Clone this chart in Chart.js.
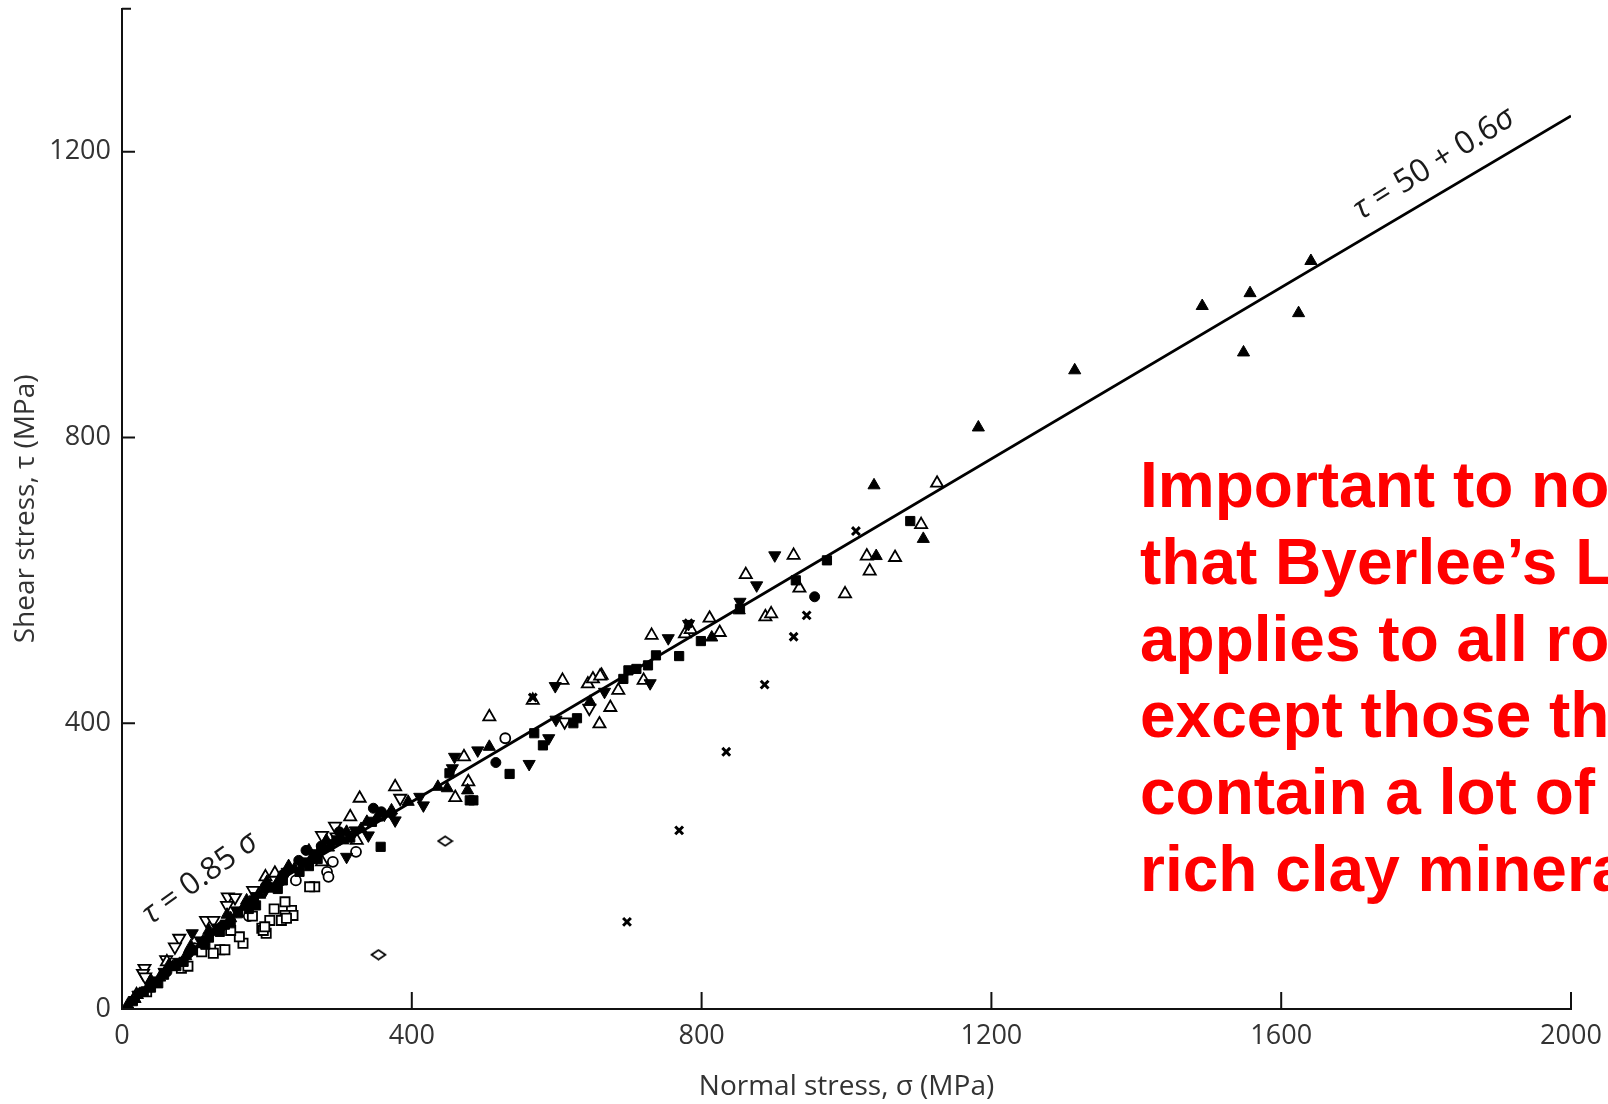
<!DOCTYPE html>
<html>
<head>
<meta charset="utf-8">
<title>Byerlee's law</title>
<script src="https://cdn.jsdelivr.net/npm/chart.js@4.4.1/dist/chart.umd.min.js"></script>
<style>
  html, body { margin: 0; padding: 0; background: #fff; }
  #wrap { width: 1608px; height: 1104px; }
</style>
</head>
<body>
<div id="wrap"><canvas id="byerleeChart" width="1608" height="1104"></canvas></div>
<script>
// Axis ticks
const xTicks = [0, 400, 800, 1200, 1600, 2000];
const xTickLabels = ['0', '400', '800', '1200', '1600', '2000'];
const yTicks = [0, 400, 800, 1200];
const yTickLabels = ['0', '400', '800', '1200'];

// Byerlee fit lines, [sigma, tau] in MPa
const lowLine = [[0, 0], [200, 170]];
const highLine = [[200, 170], [2000, 1250]];

const filledUp = [
  [1641, 1047], [1557, 1002], [1491, 984], [1624, 974], [1548, 919], [1315, 894],
  [1182, 814], [1038, 733], [1106, 658], [1041, 634], [814, 520], [852, 558],
  [449, 309], [436, 311], [477, 306], [395, 290], [507, 367], [646, 430],
  [8, 6], [18, 14], [35, 29], [52, 44], [70, 59], [88, 74], [112, 95], [128, 108],
  [150, 127], [168, 143], [190, 160], [215, 178], [238, 196], [262, 212], [285, 226],
  [305, 236], [330, 252], [352, 268], [372, 278], [40, 40], [65, 62], [95, 88],
  [120, 110], [145, 132], [172, 152], [200, 178], [230, 200], [258, 222], [282, 236],
  [310, 248], [338, 262]
];
const openUp = [
  [1125, 736], [1103, 678], [1028, 634], [1067, 632], [1032, 613], [998, 581],
  [927, 635], [861, 608], [935, 589], [888, 549], [896, 553], [811, 547], [777, 525],
  [785, 531], [731, 523], [825, 527], [662, 467], [720, 460], [685, 446], [643, 455],
  [650, 462], [660, 466], [674, 422], [659, 399], [608, 460], [567, 432], [507, 409],
  [472, 353], [478, 318], [460, 296], [377, 311], [328, 295], [315, 269], [324, 236],
  [276, 206], [198, 185], [211, 190], [62, 66], [20, 20]
];
const filledDown = [
  [901, 635], [876, 593], [782, 539], [754, 519], [729, 456], [666, 444], [598, 452],
  [599, 405], [589, 379], [491, 362], [459, 353], [562, 343], [411, 297], [416, 285],
  [377, 264], [310, 213], [340, 243], [97, 106], [853, 570], [456, 337], [45, 40],
  [78, 66], [132, 114], [198, 166], [228, 192], [268, 218], [22, 20], [58, 52],
  [108, 96], [158, 138], [185, 158], [248, 206], [290, 232], [322, 250], [362, 272]
];
const openDown = [
  [645, 421], [611, 402], [384, 295], [294, 256], [276, 243], [296, 241], [308, 243],
  [181, 166], [146, 157], [156, 156], [145, 145], [116, 124], [126, 124], [79, 99],
  [73, 87], [61, 69], [31, 57], [29, 50], [32, 45]
];
const filledSquare = [
  [1088, 683], [973, 628], [930, 600], [799, 515], [769, 494], [737, 495], [726, 481],
  [710, 476], [699, 474], [692, 462], [628, 407], [623, 400], [569, 386], [581, 369],
  [535, 329], [480, 292], [485, 292], [452, 330], [357, 227], [853, 560], [15, 11],
  [30, 24], [58, 48], [98, 82], [120, 100], [142, 118], [160, 134], [182, 152],
  [205, 170], [250, 205], [275, 224], [296, 236], [40, 30], [75, 60], [135, 108],
  [175, 140], [222, 180], [258, 200], [315, 240], [345, 262], [50, 36], [85, 66],
  [115, 90], [150, 120], [185, 145], [215, 168], [245, 192], [270, 210]
];
const openSquare = [
  [234, 138], [236, 131], [225, 131], [220, 124], [199, 106], [193, 113], [167, 92],
  [135, 83], [142, 83], [162, 101], [126, 78], [204, 124], [195, 110], [225, 150],
  [82, 57], [91, 60], [34, 24], [266, 171], [259, 171], [227, 127], [197, 115],
  [110, 80], [150, 110], [180, 130], [210, 140]
];
const openCircle = [
  [529, 379], [323, 220], [291, 206], [283, 192], [285, 185], [240, 180], [175, 130], [100, 85]
];
const filledCircle = [
  [956, 577], [516, 345], [254, 222], [347, 281], [358, 276], [372, 274], [25, 22],
  [62, 52], [92, 78], [138, 116], [172, 146], [222, 188], [244, 208], [198, 172],
  [275, 228], [300, 248]
];
const openDiamond = [[446, 235], [354, 76]];
const crosses = [
  [887, 454], [834, 360], [769, 250], [697, 122], [1013, 669], [945, 551], [927, 521],
  [567, 436], [782, 540]
];

// Equation labels: text pieces, anchor in data units, angle in degrees
const lawLabels = [
  { parts: [['τ', true], [' = 0.85 ', false], ['σ', true]], sigma: 108, tau: 183, angle: -36, size: 31 },
  { parts: [['τ', true], [' = 50 + 0.6', false], ['σ', true]], sigma: 1811, tau: 1183, angle: -32, size: 32 }
];

const noteLines = [
  'Important to note',
  'that Byerlee’s Law',
  'applies to all rocks',
  'except those that',
  'contain a lot of',
  'rich clay minerals'
];

const FONT = '"Open Sans", "DejaVu Sans", sans-serif';

const toPoints = arr => arr.map(([x, y]) => ({ x, y }));

// flattened open diamond used by the figure
function diamondImage() {
  const c = document.createElement('canvas');
  c.width = 17;
  c.height = 12;
  const g = c.getContext('2d');
  g.strokeStyle = '#000';
  g.lineWidth = 1.8;
  g.beginPath();
  g.moveTo(1.5, 6);
  g.lineTo(8.5, 1.3);
  g.lineTo(15.5, 6);
  g.lineTo(8.5, 10.7);
  g.closePath();
  g.fillStyle = '#fff';
  g.fill();
  g.stroke();
  return c;
}

function markerSet(label, data, style, filled, extra) {
  return Object.assign({
    label: label,
    data: toPoints(data),
    pointStyle: style,
    pointRadius: 7,
    backgroundColor: filled ? '#000' : '#fff',
    borderColor: '#000',
    borderWidth: filled ? 1 : 1.8,
    showLine: false
  }, extra || {});
}

function lineSet(label, data) {
  return {
    label: label,
    data: toPoints(data),
    showLine: true,
    borderColor: '#000',
    borderWidth: 2.8,
    pointRadius: 0,
    fill: false
  };
}

function drawRich(ctx, parts, cx, cy, angle, size) {
  const fontFor = italic => `${italic ? 'italic ' : ''}${size}px ${FONT}`;
  ctx.save();
  ctx.translate(cx, cy);
  ctx.rotate(angle * Math.PI / 180);
  let total = 0;
  parts.forEach(([t, it]) => {
    ctx.font = fontFor(it);
    total += ctx.measureText(t).width;
  });
  let x = -total / 2;
  ctx.textBaseline = 'middle';
  ctx.fillStyle = '#1a1a1a';
  parts.forEach(([t, it]) => {
    ctx.font = fontFor(it);
    ctx.fillText(t, x, 0);
    x += ctx.measureText(t).width;
  });
  ctx.restore();
}

// Tick marks point into the plot, plus the equations and the red note
const figureExtras = {
  id: 'figureExtras',
  afterDraw(chart) {
    const { ctx, scales: { x, y } } = chart;
    ctx.save();
    ctx.strokeStyle = '#111';
    ctx.lineWidth = 2;
    ctx.beginPath();
    x.ticks.forEach(t => {
      const px = x.getPixelForValue(t.value);
      ctx.moveTo(px, y.bottom);
      ctx.lineTo(px, y.bottom - 17);
    });
    y.ticks.forEach(t => {
      const py = y.getPixelForValue(t.value);
      ctx.moveTo(x.left, py);
      ctx.lineTo(x.left + 13, py);
    });
    // short cap on top of the y axis
    const top = y.getPixelForValue(y.max);
    ctx.moveTo(x.left, top);
    ctx.lineTo(x.left + 9, top);
    ctx.stroke();
    ctx.restore();

    lawLabels.forEach(l => {
      drawRich(ctx, l.parts, x.getPixelForValue(l.sigma), y.getPixelForValue(l.tau), l.angle, l.size);
    });

    ctx.save();
    ctx.fillStyle = '#ff0000';
    ctx.font = 'bold 64px "Liberation Sans", Arial, sans-serif';
    ctx.textBaseline = 'alphabetic';
    noteLines.forEach((line, i) => {
      ctx.fillText(line, 1140, 507 + i * 76.8);
    });
    ctx.restore();
  }
};

const ctx = document.getElementById('byerleeChart').getContext('2d');
window.byerleeChart = new Chart(ctx, {
  type: 'scatter',
  data: {
    datasets: [
      lineSet('τ = 0.85σ', lowLine),
      lineSet('τ = 50 + 0.6σ', highLine),
      markerSet('crosses', crosses, 'crossRot', true, { pointRadius: 5.5, borderWidth: 3 }),
      markerSet('filled up', filledUp, 'triangle', true),
      markerSet('filled down', filledDown, 'triangle', true, { pointRotation: 180 }),
      markerSet('filled square', filledSquare, 'rect', true, { pointRadius: 6.5 }),
      markerSet('filled circle', filledCircle, 'circle', true, { pointRadius: 5 }),
      markerSet('open up', openUp, 'triangle', false),
      markerSet('open down', openDown, 'triangle', false, { pointRotation: 180 }),
      markerSet('open square', openSquare, 'rect', false, { pointRadius: 6.5 }),
      markerSet('open circle', openCircle, 'circle', false, { pointRadius: 5 }),
      markerSet('open diamond', openDiamond, diamondImage(), false)
    ]
  },
  options: {
    responsive: false,
    animation: false,
    devicePixelRatio: 1,
    events: [],
    layout: { padding: { top: 8, right: 37, left: 0, bottom: 0 } },
    plugins: {
      legend: { display: false },
      tooltip: { enabled: false }
    },
    scales: {
      x: {
        type: 'linear',
        min: 0,
        max: 2000,
        afterBuildTicks: axis => {
          axis.ticks = xTicks.map(value => ({ value }));
        },
        afterFit: axis => {
          // fixed box so the plot area matches the figure
          axis.height = 95;
          axis.paddingLeft = 0;
          axis.paddingRight = 0;
        },
        grid: { display: false, drawTicks: false },
        border: { display: true, color: '#111', width: 2 },
        ticks: {
          padding: 11,
          color: '#333',
          maxRotation: 0,
          autoSkip: false,
          font: { family: FONT, size: 27 },
          callback: (value, i) => xTickLabels[i]
        },
        title: {
          display: true,
          text: 'Normal stress, σ (MPa)',
          color: '#333',
          font: { family: FONT, size: 28 },
          padding: { top: 0, bottom: 0 }
        }
      },
      y: {
        type: 'linear',
        min: 0,
        max: 1400,
        afterBuildTicks: axis => {
          axis.ticks = yTicks.map(value => ({ value }));
        },
        afterFit: axis => {
          axis.width = 122;
          axis.paddingTop = 0;
          axis.paddingBottom = 0;
        },
        grid: { display: false, drawTicks: false },
        border: { display: true, color: '#111', width: 2 },
        ticks: {
          padding: 11,
          color: '#333',
          autoSkip: false,
          font: { family: FONT, size: 27 },
          callback: (value, i) => yTickLabels[i]
        },
        title: {
          display: true,
          text: 'Shear stress, τ (MPa)',
          color: '#333',
          font: { family: FONT, size: 28 },
          padding: { top: 9, bottom: 0 }
        }
      }
    }
  },
  plugins: [figureExtras]
});
</script>
</body>
</html>
